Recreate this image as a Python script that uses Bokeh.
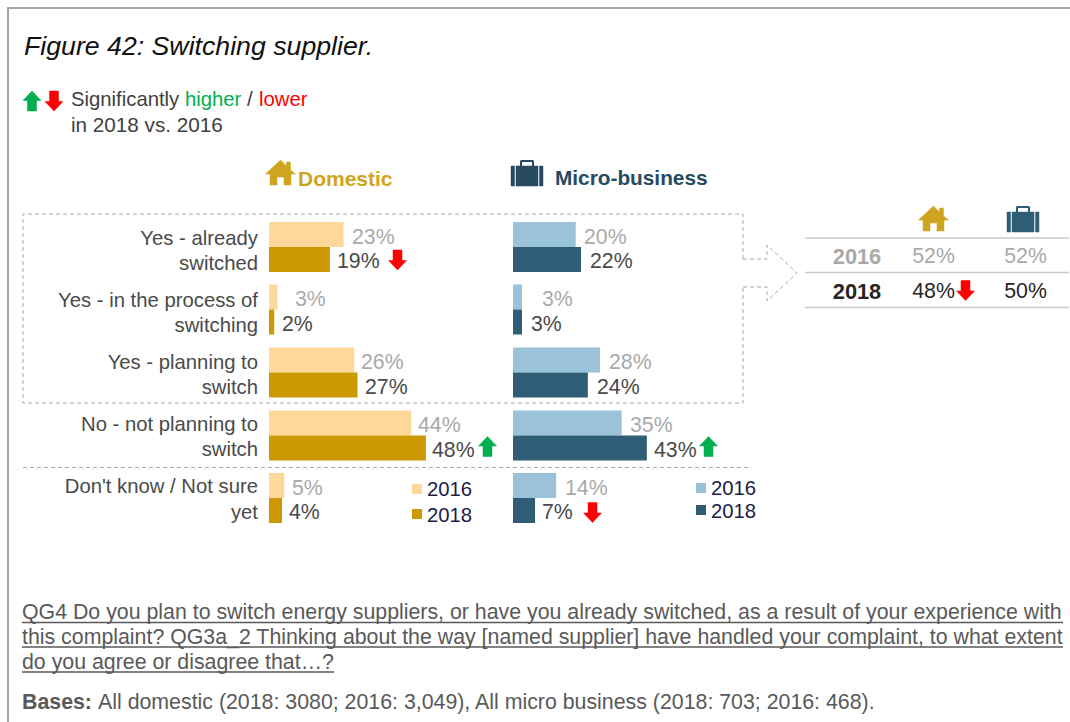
from bokeh.plotting import figure
from bokeh.models import Range1d
from bokeh.core.properties import value
from bokeh.embed import file_html
from bokeh.resources import INLINE

# ---------- data ----------
categories = [["Yes - already", "switched"], ["Yes - in the process of", "switching"],
              ["Yes - planning to", "switch"], ["No - not planning to", "switch"],
              ["Don't know / Not sure", "yet"]]
domestic_2016 = [22.9, 2.6, 26.2, 43.7, 4.7]
domestic_2018 = [18.7, 1.6, 27.2, 48.2, 4.0]
micro_2016 = [20.2, 2.9, 28, 35, 13.9]
micro_2018 = [21.9, 2.9, 24.1, 43.1, 7.1]
domestic_labels_2016 = ["23%", "3%", "26%", "44%", "5%"]
domestic_labels_2018 = ["19%", "2%", "27%", "48%", "4%"]
micro_labels_2016 = ["20%", "3%", "28%", "35%", "14%"]
micro_labels_2018 = ["22%", "3%", "24%", "43%", "7%"]
years = ["2016", "2018"]
table_domestic = ["52%", "48%"]
table_micro = ["52%", "50%"]
title = "Figure 42: Switching supplier."
question = ["QG4 Do you plan to switch energy suppliers, or have you already switched, as a result of your experience with",
            "this complaint? QG3a_2 Thinking about the way [named supplier] have handled your complaint, to what extent",
            "do you agree or disagree that\u2026?"]
bases = "All domestic (2018: 3080; 2016: 3,049), All micro business (2018: 703; 2016: 468)."

# ---------- colours ----------
C_D16, C_D18 = "#FDD89A", "#CC9900"
C_M16, C_M18 = "#9AC2D8", "#2E5D75"
C_GOLD, C_NAVY = "#CFA520", "#264A60"
C_GREY, C_DARK = "#A9A9A9", "#404040"
C_LABEL = "#4A4A4A"
C_FOOT = "#595959"
C_UP, C_DOWN = "#00B050", "#FF0000"
C_LEG = "#1C1C4A"
FONT = "Liberation Sans"

W, H = 1070, 722
OFF = 0.5
p = figure(width=W, height=H, output_backend="svg", toolbar_location=None,
           x_range=Range1d(OFF, W + OFF), y_range=Range1d(H + OFF, OFF),
           min_border=0, outline_line_color=None, background_fill_color="white")
p.xaxis.visible = False
p.yaxis.visible = False
p.grid.visible = False

# bar scales: one value-axis range per panel
D0, DK = 269.0, 3.255
M0, MK = 513.0, 3.105
p.extra_x_ranges = {
    "dom": Range1d((OFF - D0) / DK, (W + OFF - D0) / DK),
    "mic": Range1d((OFF - M0) / MK, (W + OFF - M0) / MK),
}

def T(x, y, s, size=20.3, color=C_DARK, align="left", style="normal", baseline="middle"):
    p.text([x], [y], text=[s], text_font=value(FONT), text_font_size=f"{size}px",
           text_color=color, text_align=align, text_baseline=baseline, text_font_style=style)

def up(x, y, c=C_UP, s=1.0):
    p.patch([x, x + 9*s, x + 4.5*s, x + 4.5*s, x - 4.5*s, x - 4.5*s, x - 9*s],
            [y, y + 9.5*s, y + 9.5*s, y + 20*s, y + 20*s, y + 9.5*s, y + 9.5*s],
            fill_color=c, line_color=c, line_width=0.5)

def down(x, y, c=C_DOWN, s=1.0):
    p.patch([x - 4.5*s, x + 4.5*s, x + 4.5*s, x + 9*s, x, x - 9*s, x - 4.5*s],
            [y, y, y + 10.5*s, y + 10.5*s, y + 20*s, y + 10.5*s, y + 10.5*s],
            fill_color=c, line_color=c, line_width=0.5)

def house(x, y, c=C_GOLD, s=1.0):
    p.patch([x - 15*s, x, x + 6*s, x + 6*s, x + 10*s, x + 10*s, x + 15*s, x + 10.5*s, x + 10.5*s,
             x + 3.5*s, x + 3.5*s, x - 3.5*s, x - 3.5*s, x - 10.5*s, x - 10.5*s],
            [y - 11*s, y - 25*s, y - 19*s, y - 23*s, y - 23*s, y - 15*s, y - 11*s, y - 11*s, y,
             y, y - 8*s, y - 8*s, y, y, y - 11*s],
            fill_color=c, line_color=c, line_width=0.5)

def case(x, y, c=C_NAVY, s=1.0):
    p.quad(left=[x - 16*s], right=[x - 12.5*s], top=[y - 20*s], bottom=[y], fill_color=c, line_color=c, line_width=0.5)
    p.quad(left=[x + 12.5*s], right=[x + 16*s], top=[y - 20*s], bottom=[y], fill_color=c, line_color=c, line_width=0.5)
    p.quad(left=[x - 11*s], right=[x + 11*s], top=[y - 20*s], bottom=[y], fill_color=c, line_color=c, line_width=0.5)
    p.line([x - 6*s, x - 6*s, x + 6*s, x + 6*s], [y - 20*s, y - 25*s, y - 25*s, y - 20*s], line_color=c, line_width=2)

# frame
p.line([8, 8], [7, H + 1], line_color="#A6A6A6", line_width=2)
p.line([7, W + 1], [8, 8], line_color="#A6A6A6", line_width=2)

# title + key
T(24, 46, title, size=26.7, color="#111111", style="italic")
up(32, 91); down(54, 91)
T(71, 99, "Significantly", color=C_DARK)
T(185, 99, "higher", color=C_UP)
T(247, 99, "/", color=C_DARK)
T(259, 99, "lower", color=C_DOWN)
T(71, 124, "in 2018 vs. 2016", size=20.7, color=C_DARK)

# panel heads
house(280.5, 185)
T(298, 178, "Domestic", size=21, color=C_GOLD, style="bold")
case(527, 186)
T(555, 177, "Micro-business", size=20.8, color=C_NAVY, style="bold")

# bars
row_tops = [222, 284.5, 347.5, 410.5, 473]
BH = 25
y16 = [t + BH / 2 for t in row_tops]
y18 = [t + BH * 1.5 for t in row_tops]
p.hbar(y=y16, left=0, right=domestic_2016, height=BH, fill_color=C_D16, line_color=None, x_range_name="dom")
p.hbar(y=y18, left=0, right=domestic_2018, height=BH, fill_color=C_D18, line_color=None, x_range_name="dom")
p.hbar(y=y16, left=0, right=micro_2016, height=BH, fill_color=C_M16, line_color=None, x_range_name="mic")
p.hbar(y=y18, left=0, right=micro_2018, height=BH, fill_color=C_M18, line_color=None, x_range_name="mic")

# labels
label_y1 = [238, 300, 362, 424, 486]
label_y2 = [263, 325, 387, 449, 512]
for i, lines in enumerate(categories):
    T(258, label_y1[i], lines[0], color=C_LABEL, align="right")
    T(258, label_y2[i], lines[1], color=C_LABEL, align="right")

d16x = [352, 295, 361, 418, 292]
d18x = [337, 282, 365, 432, 289]
m16x = [584, 542, 609, 630, 565]
m18x = [590, 531, 597, 654, 542]
LS = 21.3
for i in range(5):
    T(d16x[i], y16[i] + 2, domestic_labels_2016[i], size=LS, color=C_GREY)
    T(d18x[i], y18[i] + 1.5, domestic_labels_2018[i], size=LS, color=C_LABEL)
    T(m16x[i], y16[i] + 2, micro_labels_2016[i], size=LS, color=C_GREY)
    T(m18x[i], y18[i] + 1.5, micro_labels_2018[i], size=LS, color=C_LABEL)

down(397.5, 250); up(487.5, 436.5); up(708.5, 436.5); down(592.5, 502.5)

# dashed box / separator / arrow
DC = "#A9A9A9"
p.line([743, 743, 23, 23, 743, 743], [259, 214, 214, 403, 403, 286], line_color=DC, line_width=1, line_dash="4 3")
p.line([23, 749], [467.5, 467.5], line_color=DC, line_width=1, line_dash="4 3")
p.line([743, 767, 767, 797, 767, 767, 743], [259, 259, 245, 273, 301, 287, 287], line_color=DC, line_width=1, line_dash="4 3")

# legends
for x0, tx, c1, c2, y1, y2 in [(412, 427, C_D16, C_D18, 489, 514), (696, 711, C_M16, C_M18, 488, 510)]:
    p.quad(left=[x0], right=[x0 + 10], top=[y1 - 5], bottom=[y1 + 5], fill_color=c1, line_color=None)
    p.quad(left=[x0], right=[x0 + 10], top=[y2 - 5], bottom=[y2 + 5], fill_color=c2, line_color=None)
    T(tx, y1, years[0], color=C_LEG)
    T(tx, y2 + 0.5, years[1], color=C_LEG)

# table
house(933.5, 231)
case(1023, 232, c=C_M18)
for yy in [238, 272.5, 307.5]:
    p.line([805, 1069], [yy, yy], line_color="#C8C8C8", line_width=1.5)
T(857, 256, years[0], size=21.8, color=C_GREY, align="center", style="bold")
T(857, 291, years[1], size=21.8, color="#262626", align="center", style="bold")
T(933.5, 256, table_domestic[0], size=21.3, color=C_GREY, align="center")
T(933.5, 291, table_domestic[1], size=21.3, color="#262626", align="center")
T(1025.5, 256, table_micro[0], size=21.3, color=C_GREY, align="center")
T(1025.5, 291, table_micro[1], size=21.3, color="#262626", align="center")
down(965.5, 280.5)

# footer
FS = 21.33
for yy, s in zip([612, 637, 662], question):
    T(22, yy, s, size=FS, color=C_FOOT)
p.line([22, 1063], [622.5, 622.5], line_color=C_FOOT, line_width=1.5)
p.line([22, 1063], [647, 647], line_color=C_FOOT, line_width=1.5)
p.line([22, 334], [672, 672], line_color=C_FOOT, line_width=1.5)
T(22, 702, "Bases:", size=FS, color=C_FOOT, style="bold")
T(98, 702, bases, size=FS, color=C_FOOT)

open("out.html", "w").write(file_html(p, INLINE))
